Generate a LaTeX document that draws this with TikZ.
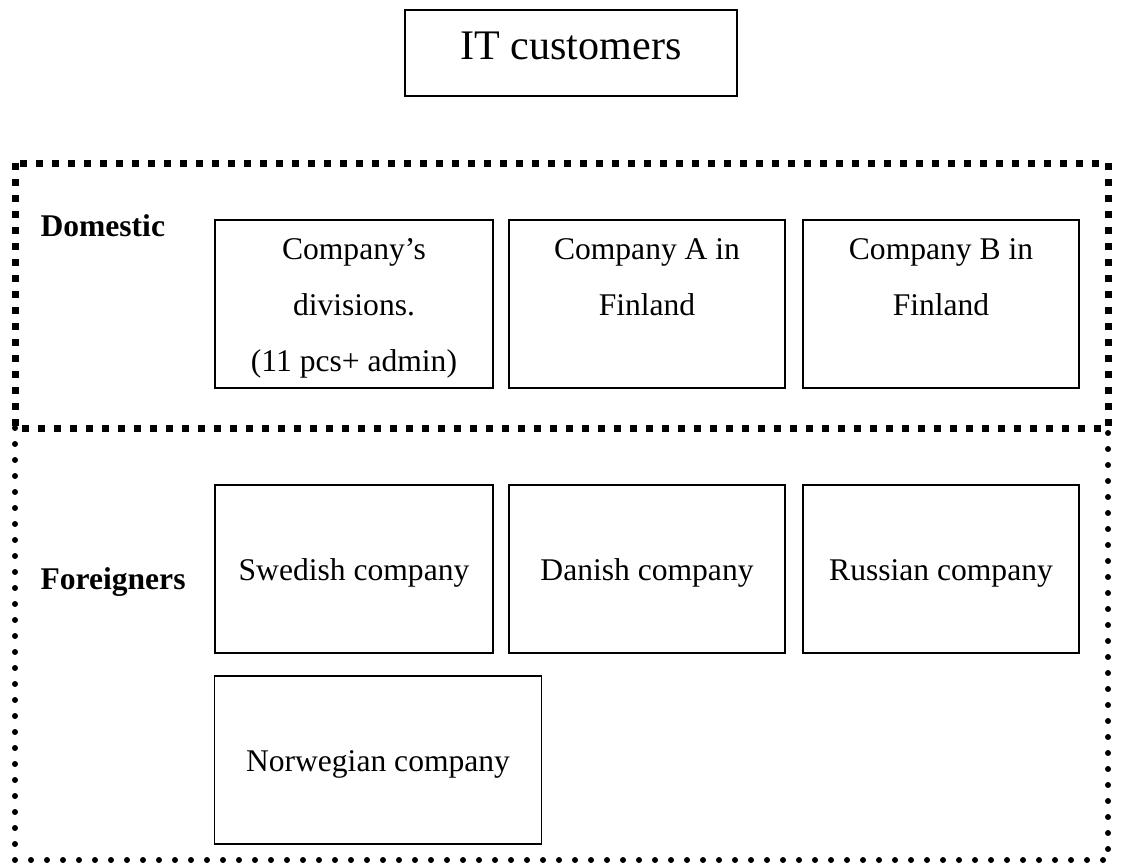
\documentclass[tikz,border=0pt]{standalone}
\usepackage{fontspec}
\setmainfont{Liberation Serif}

\begin{document}
\begin{tikzpicture}[x=0.38pt, y=-0.38pt,
    box/.style={draw, semithick, inner sep=0pt, minimum width=276*0.38pt, align=center,
                minimum height=168*0.38pt, font=\fontsize{12}{21.3}\selectfont},
    title/.style={draw, semithick, inner sep=0pt, minimum width=332*0.38pt, minimum height=86*0.38pt,
                text depth=14*0.38pt, font=\fontsize{16}{19}\selectfont},
    group/.style={font=\bfseries\fontsize{12}{14}\selectfont, anchor=base west, inner sep=0pt},
    squares/.style={line width=7*0.38pt, dash pattern=on 7*0.38pt off 9*0.38pt},
    dots/.style={line width=6*0.38pt, line cap=round, dash pattern=on 0pt off 16*0.38pt}]
    \useasboundingbox (0,0) rectangle (1121,863);

    \node[title] (it) at (571,53) {IT customers};

    % domestic and foreign frames
    \draw[squares] (15,163) rectangle (1108,428);
    \draw[dots] (15,428) rectangle (1108,860);
    \node[group] (dom) at (40,236) {Domestic};
    \node[group] (for) at (40,589) {Foreigners};

    \node[box, minimum width=278*0.38pt] (div) at (354,304) {\strut Company's\\divisions.\\(11 pcs+ admin)\strut};
    \node[box] (compa) at (647,304) {\strut Company A in\\Finland\\\strut};
    \node[box] (compb) at (941,304) {\strut Company B in\\Finland\\\strut};

    \node[box, minimum width=278*0.38pt] (swe) at (354,569) {\strut Swedish company};
    \node[box] (dan) at (647,569) {\strut Danish company};
    \node[box] (rus) at (941,569) {\strut Russian company};
    \node[box, minimum width=327*0.38pt] (nor) at (378,760) {\strut Norwegian company};
\end{tikzpicture}
\end{document}
